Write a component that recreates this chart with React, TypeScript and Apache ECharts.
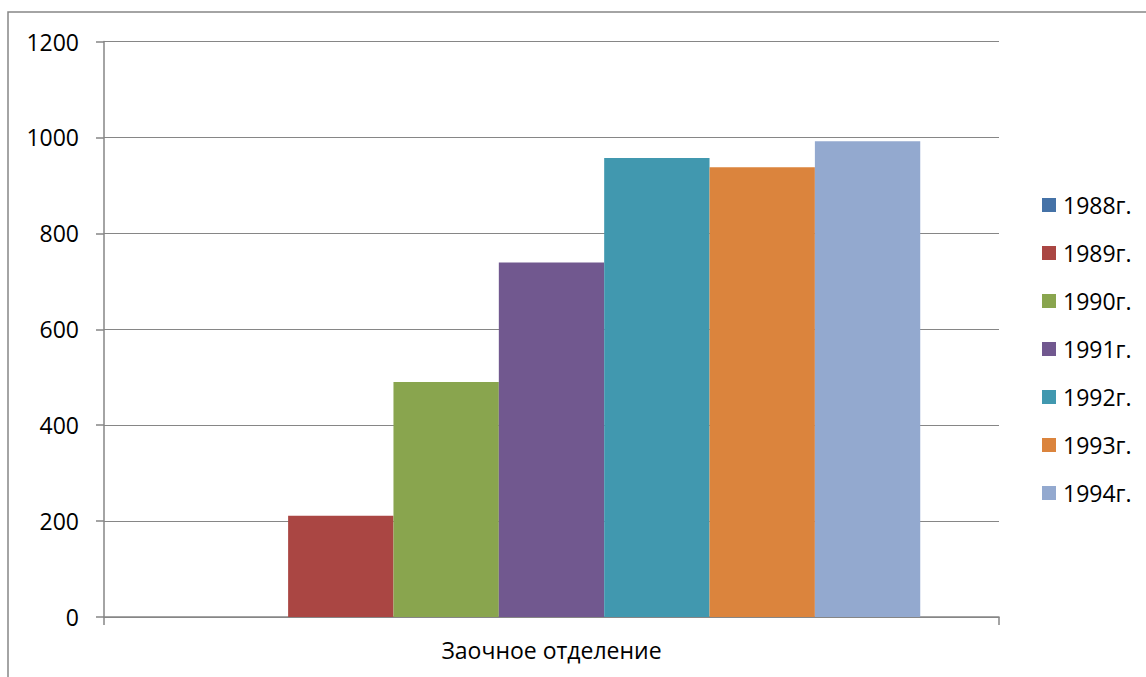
import React, { useEffect, useRef } from "react";
import * as echarts from "echarts";

const categories = ["Заочное отделение"];
const seriesNames = ["1988г.", "1989г.", "1990г.", "1991г.", "1992г.", "1993г.", "1994г."];
const seriesValues = [0, 211, 490, 739, 957, 938, 992];
const seriesColors = ["#4572A7", "#AA4643", "#89A54E", "#71588F", "#4198AF", "#DB843D", "#93A9CF"];
const yTicks = [0, 200, 400, 600, 800, 1000, 1200];

const FONT = "'Open Sans', sans-serif";

export default function App() {
  const ref = useRef<HTMLDivElement>(null);
  useEffect(() => {
    if (!ref.current) return;
    const chart = echarts.init(ref.current, null, { renderer: "svg" });
    chart.setOption({
      animation: false,
      backgroundColor: "#ffffff",
      textStyle: { fontFamily: FONT },
      graphic: [
        {
          type: "rect",
          shape: { x: 8, y: 12, width: 1300, height: 800 },
          style: { fill: "none", stroke: "#868686", lineWidth: 1.5 },
          silent: true,
          z: -1,
        },
      ],
      grid: { left: 104, top: 41.5, right: 147, bottom: 60, containLabel: false },
      legend: {
        orient: "vertical",
        left: 1042,
        top: 193.5,
        padding: 0,
        itemWidth: 14,
        itemHeight: 14,
        itemGap: 25,
        icon: "rect",
        data: seriesNames,
        textStyle: {
          fontFamily: FONT,
          fontSize: 23,
          color: "#000000",
          lineHeight: 23,
          padding: [0, 0, 0, 2],
        },
      },
      xAxis: {
        type: "category",
        data: categories,
        axisLine: { lineStyle: { color: "#868686", width: 1.5 } },
        axisTick: { show: true, length: 8, lineStyle: { color: "#868686", width: 1.5 } },
        axisLabel: { fontFamily: FONT, fontSize: 23, color: "#000000", margin: 21 },
      },
      yAxis: {
        type: "value",
        min: yTicks[0],
        max: yTicks[yTicks.length - 1],
        interval: 200,
        axisLine: { show: true, lineStyle: { color: "#868686", width: 1.5 } },
        axisTick: { show: true, length: 8, lineStyle: { color: "#868686", width: 1.5 } },
        axisLabel: {
          fontFamily: FONT,
          fontSize: 23,
          color: "#000000",
          margin: 25,
          formatter: (v: number) => String(v),
        },
        splitLine: { show: true, lineStyle: { color: "#868686", width: 1.2 } },
      },
      series: seriesNames.map((name, i) => ({
        name,
        type: "bar",
        data: [seriesValues[i]],
        itemStyle: { color: seriesColors[i] },
        barGap: "0%",
        barCategoryGap: "17.6%",
      })),
    });
    return () => chart.dispose();
  }, []);
  return (
    <div
      ref={ref}
      style={{ position: "absolute", left: 0, top: 0, width: 1146, height: 677 }}
    />
  );
}
